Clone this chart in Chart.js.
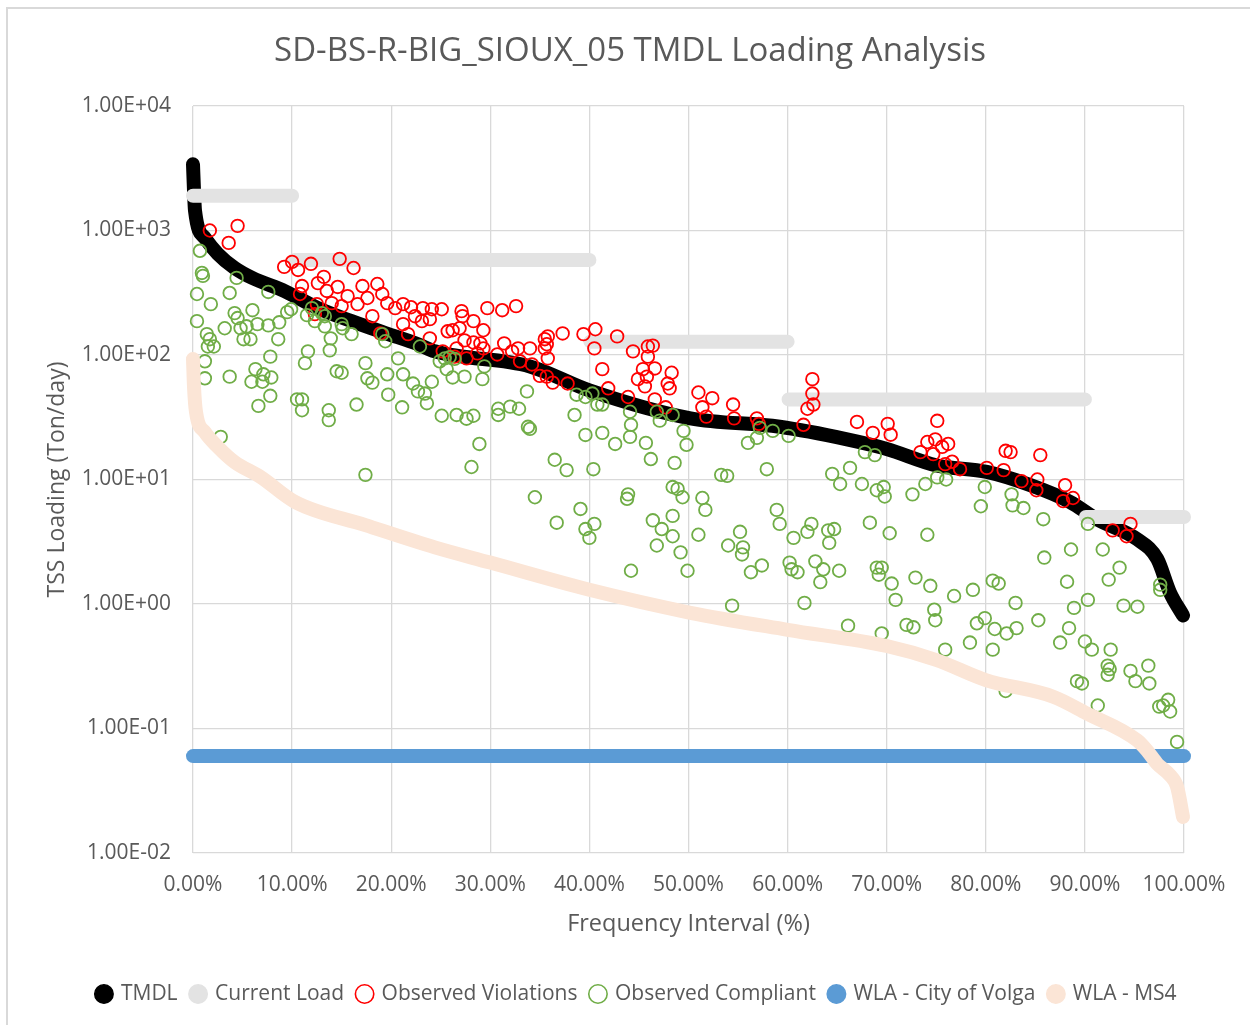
<!DOCTYPE html>
<html>
<head>
<meta charset="utf-8">
<script src="https://cdn.jsdelivr.net/npm/chart.js@4.4.1/dist/chart.umd.min.js"></script>
<style>
  body { margin: 0; background: #fff; }
  #frame { position: absolute; left: 6px; top: 7px; width: 1260px; height: 1040px; border: 2px solid #d9d9d9; }
  #wrap { position: absolute; left: 0; top: 0; width: 1250px; height: 1025px; }
</style>
</head>
<body>
<div id="frame"></div>
<div id="wrap"><canvas id="graph" width="1250" height="1025"></canvas></div>
<script>
// flow duration curve (percent of time exceeded) vs load, ton/day
var tmdlX = [0, 0.1, 0.2, 1.2, 2.5, 4.2, 6.0, 9.3, 12.6, 16.0, 19.4, 22.7, 24.4, 34.0, 40.0, 50.2, 59.2, 66.0, 70.0, 75.0, 80.1, 84.5, 88.5, 91.2, 95.3, 97.3, 98.6, 99.9];
var tmdlY = [3400, 2100, 1450, 870, 650, 500, 415, 325, 238, 187, 150, 122, 107, 81, 52, 31, 26.5, 21, 17.6, 13, 11.5, 9.0, 6.6, 4.8, 3.3, 2.3, 1.23, 0.81];

var loadX = [0, 10, 10.1, 10.2, 40, 40.05, 40.1, 60, 60.05, 60.1, 90, 90.05, 90.1, 100];
var loadY = [1900, 1900, null, 580, 580, null, 128, 128, null, 44, 44, null, 5.0, 5.0];

var volgaX = [0, 100];
var volgaY = [0.06, 0.06];

var ms4X = [0, 0.1, 0.3, 1.2, 2.5, 4.2, 6.8, 10.3, 17.4, 24.4, 30, 40, 50.2, 60, 70, 75, 80, 86.8, 90.2, 95.3, 96.3, 97.3, 98.6, 99.3, 99.9];
var ms4Y = [93, 56, 35, 24, 18.3, 13.8, 10.5, 6.6, 4.3, 2.85, 2.15, 1.30, 0.85, 0.62, 0.46, 0.355, 0.245, 0.18, 0.132, 0.080, 0.066, 0.052, 0.042, 0.034, 0.0195];

var violX = [1.7, 4.5, 3.6, 9.2, 10.0, 10.6, 11.9, 14.8, 16.2, 12.6, 13.2, 11.0, 10.8, 13.5, 14.6, 12.5, 14.0, 15.0, 15.6, 17.1,
  18.6, 17.6, 16.6, 19.1, 19.6, 20.4, 21.2, 22.0, 23.2, 24.1, 22.4, 18.1, 21.2, 23.1, 23.9, 21.7, 23.9, 18.9, 12.3,
  25.1, 27.1, 27.2, 28.3, 29.7, 31.2, 32.6, 25.7, 26.2, 26.9, 29.3, 27.4, 28.3, 29.0, 29.3, 26.6, 25.2, 26.4, 27.6, 28.7,
  30.7, 31.4, 32.2, 32.8, 34.0, 33.0, 34.2, 35.5, 35.8, 35.7, 35.5, 37.3, 35.8, 35.0, 35.7, 36.3, 37.8, 39.4, 40.6, 40.5,
  41.3, 42.8, 44.4, 45.9, 46.4, 45.9, 45.4, 44.9, 45.6, 45.8, 46.6, 48.3, 47.9, 48.1, 41.9, 43.9, 46.6, 47.7,
  51.0, 52.4, 51.4, 51.8, 54.5, 54.6, 56.9, 57.1, 62.5, 62.5, 62.6, 62.0, 61.6, 67.0, 68.6, 70.1, 70.4, 73.4, 74.1,
  75.1, 74.9, 75.6, 76.2, 74.7, 75.9, 76.6, 77.4, 80.1, 81.8, 82.0, 82.5, 85.5, 83.6, 85.2, 85.1, 88.0, 88.8, 87.8,
  92.8, 94.6, 94.2];
var violY = [1000, 1090, 795, 510, 560, 482, 540, 592, 500, 378, 424, 358, 309, 327, 352, 256, 261, 247, 297, 358,
  372, 287, 256, 309, 261, 238, 256, 242, 238, 233, 205, 205, 177, 187, 194, 147, 136, 149, 213,
  233, 225, 205, 187, 238, 229, 247, 155, 158, 164, 158, 131, 126, 124, 113, 113, 107, 97, 94, 103,
  101, 124, 107, 113, 113, 89, 84, 134, 141, 122, 113, 149, 94, 68, 67, 60, 59, 147, 161, 113,
  77, 141, 107, 117, 119, 97, 77, 64, 56, 67, 78, 72, 59, 54, 54, 46, 44, 38,
  50, 45, 38, 32, 40, 31, 31, 28, 64, 49, 40, 37, 27.5, 29, 23.7, 28, 22.9, 16.6, 20,
  29.6, 21, 18.3, 19.3, 16, 13.3, 13.9, 12.1, 12.4, 11.9, 17, 16.6, 15.7, 9.7, 10, 8.2, 9.0, 7.1, 6.7,
  3.9, 4.4, 3.5];

var compX = [0.7, 0.9, 1.0, 0.4, 1.8, 0.4, 1.4, 1.7, 1.5, 2.1, 1.2, 1.2, 3.7, 4.4, 3.7, 3.2, 4.2, 6.0, 4.5, 4.8,
  5.4, 6.5, 7.6, 8.7, 5.1, 5.8, 7.6, 8.6, 7.8, 6.3, 7.1, 7.9, 5.9, 7.0, 7.8, 6.6, 10.5, 11.0, 11.0, 13.7,
  13.7, 2.8, 17.4, 9.5, 9.9, 11.5, 12.0, 12.3, 13.0, 13.3, 13.3, 15.0, 15.1, 16.0, 13.9, 13.8, 11.6, 11.3, 14.5, 15.0,
  17.4, 17.6, 18.1, 16.5, 19.6, 19.7, 21.1, 20.7, 19.4, 19.1, 21.2, 22.2, 22.7, 23.4, 23.6, 24.1, 22.9,
  24.9, 25.4, 25.9, 26.4, 25.6, 26.2, 27.4, 29.2, 29.4, 25.1, 26.6, 27.6, 28.3, 30.8, 30.8, 32.0, 32.9, 33.7, 33.8,
  34.0, 28.9, 28.1, 36.5, 37.7, 40.4, 38.5, 38.7, 39.6, 40.3, 40.8, 41.3, 39.6, 41.3, 42.6, 44.1, 44.2, 44.1, 45.7,
  46.2, 48.6, 46.8, 47.1, 48.4, 49.5, 49.8, 48.4, 48.9, 34.5, 43.9, 43.8,
  39.1, 36.7, 39.6, 40.5, 40.0, 49.4, 46.4, 47.3, 48.4, 48.4, 46.8, 49.2, 44.2, 49.9,
  53.3, 53.9, 56.0, 56.9, 57.2, 58.5, 60.1, 57.9, 64.5, 66.3, 67.8, 68.8, 65.3, 67.5, 69.0, 69.7, 69.8,
  51.4, 51.7, 51.0, 55.2, 54.0, 55.5, 55.4, 56.3, 57.4, 58.9, 59.2, 60.6, 62.0, 62.4, 60.2, 60.4, 61.0, 62.8, 63.6,
  63.3, 65.2, 64.1, 64.7, 64.2, 61.7, 54.4, 66.1, 68.3, 69.0, 69.5, 69.2, 70.3, 70.5, 70.9, 69.5, 72.6, 73.9, 74.1,
  72.9, 72.0, 72.7,
  75.1, 76.0, 79.9, 79.5, 82.6, 82.7, 83.8, 85.8, 90.3, 85.9, 88.6, 91.8, 93.5, 92.4, 88.2, 90.3, 88.9, 93.9, 95.3,
  97.6, 97.6, 74.4, 80.7, 81.3, 78.7, 76.8, 83.0, 74.8, 74.9, 79.1, 79.9, 80.9, 82.1, 83.1, 85.3, 88.4, 87.5, 78.4,
  80.7, 75.9, 90.0, 90.7, 92.6, 92.3, 92.5, 92.3, 94.6, 95.1, 96.4, 96.5, 89.2, 89.7, 82.0, 91.3, 97.5, 97.9, 98.4,
  98.6, 99.3];
var compY = [687, 456, 432, 309, 256, 187, 147, 134, 117, 117, 89, 65, 67, 416, 315, 164, 217, 229, 198, 164,
  170, 177, 173, 183, 134, 134, 321, 134, 97, 77, 70, 66, 61, 61, 47, 39, 44, 44, 36, 36,
  30, 22, 10.9, 221, 233, 209, 238, 187, 217, 205, 170, 177, 164, 147, 136, 109, 107, 86, 74, 72,
  86, 65, 60, 40, 70, 48, 38, 94, 129, 147, 70, 59, 51, 49, 41, 61, 117,
  89, 94, 96, 93, 77, 66, 67, 64, 81, 32.5, 33, 30.8, 32.5, 37, 33, 38.5, 37, 51, 26.5,
  25.5, 19.3, 12.6, 14.4, 11.9, 12.1, 33, 48, 46, 49, 40, 40, 22.8, 23.7, 19.3, 35, 27.5, 22, 19.7,
  14.6, 13.6, 35, 29.7, 33, 24.6, 19, 8.7, 8.4, 7.2, 7.6, 7.0,
  5.8, 4.5, 4.0, 4.4, 3.4, 7.2, 4.7, 4.0, 5.1, 3.5, 2.95, 2.6, 1.85, 1.85,
  10.9, 10.7, 19.7, 21.6, 26, 24.6, 22.4, 12.1, 11.1, 12.4, 16.6, 15.7, 9.2, 9.2, 8.2, 8.7, 7.3,
  7.1, 5.7, 3.6, 3.8, 2.95, 2.85, 2.5, 1.8, 2.04, 5.7, 4.4, 3.4, 3.8, 4.4, 2.15, 1.9, 1.8, 2.2, 1.9,
  1.5, 1.85, 3.9, 4.0, 3.1, 1.02, 0.97, 0.67, 4.5, 1.96, 1.96, 1.72, 3.7, 1.46, 1.08, 0.58, 7.6, 9.2, 3.6,
  1.63, 0.68, 0.65,
  10.4, 10.0, 8.7, 6.1, 7.6, 6.2, 5.9, 4.8, 4.4, 2.36, 2.74, 2.74, 1.96, 1.57, 1.51, 1.08, 0.93, 0.97, 0.95,
  1.43, 1.3, 1.40, 1.54, 1.46, 1.30, 1.16, 1.02, 0.90, 0.74, 0.70, 0.77, 0.63, 0.58, 0.64, 0.74, 0.64, 0.49, 0.49,
  0.43, 0.43, 0.50, 0.43, 0.43, 0.32, 0.30, 0.27, 0.29, 0.24, 0.32, 0.23, 0.24, 0.23, 0.20, 0.153, 0.15, 0.153, 0.17,
  0.137, 0.078];

var yTicks = [0.01, 0.1, 1, 10, 100, 1000, 10000];
var seriesNames = ['TMDL', 'Current Load', 'Observed Violations', 'Observed Compliant', 'WLA - City of Volga', 'WLA - MS4'];
var legendFill = ['#000000', '#e3e3e3', '#ffffff', '#ffffff', '#5b9bd5', '#fbe5d6'];
var legendStroke = ['#000000', '#e3e3e3', '#ff0000', '#70ad47', '#5b9bd5', '#fbe5d6'];

function pts(xs, ys) {
  var out = [];
  for (var i = 0; i < xs.length; i++) {
    out.push({x: xs[i], y: ys[i]});
  }
  return out;
}

function sci(v) {
  var e = Math.round(Math.log10(v));
  return '1.00E' + (e < 0 ? '-' : '+') + String(Math.abs(e)).padStart(2, '0');
}

var FONT = 'Open Sans';
var GREY = '#595959';

function curve(label, xs, ys, color, order) {
  return {
    label: label, data: pts(xs, ys), showLine: true, spanGaps: false,
    borderColor: color, backgroundColor: color, borderWidth: 14,
    borderCapStyle: 'round', borderJoinStyle: 'round', cubicInterpolationMode: 'monotone',
    pointRadius: 0, pointHoverRadius: 0, clip: false, order: order
  };
}

function dots(label, xs, ys, color, order) {
  return {
    label: label, data: pts(xs, ys), showLine: false,
    borderColor: color, backgroundColor: 'rgba(0,0,0,0)', borderWidth: 1.8,
    pointRadius: 6.3, pointStyle: 'circle', clip: false, order: order
  };
}

// excel centres title and legend on the whole chart box, not the padded one
var centreShift = {
  id: 'centreShift',
  afterLayout: function(chart) {
    if (chart.titleBlock) { chart.titleBlock.left += 23; chart.titleBlock.right += 23; }
    if (chart.legend) { chart.legend.left += 30; chart.legend.right += 30; }
  }
};

var ctx = document.getElementById('graph').getContext('2d');
var myChart = new Chart(ctx, {
  type: 'scatter',
  data: {
    datasets: [
      curve(seriesNames[0], tmdlX, tmdlY, '#000000', 6),
      curve(seriesNames[1], loadX, loadY, '#e3e3e3', 5),
      dots(seriesNames[2], violX, violY, '#ff0000', 4),
      dots(seriesNames[3], compX, compY, '#70ad47', 3),
      curve(seriesNames[4], volgaX, volgaY, '#5b9bd5', 2),
      curve(seriesNames[5], ms4X, ms4Y, '#fbe5d6', 1)
    ]
  },
  plugins: [centreShift],
  options: {
    responsive: false,
    animation: false,
    layout: { padding: { left: 30, right: 66, top: 0, bottom: 10.5 } },
    plugins: {
      tooltip: { enabled: false },
      title: {
        display: true,
        text: 'SD-BS-R-BIG_SIOUX_05 TMDL Loading Analysis',
        color: GREY,
        font: { family: FONT, size: 33, weight: 'normal' },
        padding: { top: 32, bottom: 34.4 }
      },
      legend: {
        position: 'bottom',
        labels: {
          usePointStyle: true,
          pointStyle: 'circle',
          boxWidth: 13,
          boxHeight: 13,
          padding: 14,
          color: GREY,
          font: { family: FONT, size: 21 },
          sort: function(a, b) { return a.datasetIndex - b.datasetIndex; },
          generateLabels: function(chart) {
            var items = Chart.defaults.plugins.legend.labels.generateLabels(chart);
            items.forEach(function(it) {
              var i = it.datasetIndex;
              it.fillStyle = legendFill[i];
              it.strokeStyle = legendStroke[i];
              it.lineWidth = 1.6;
              it.pointStyle = 'circle';
            });
            return items;
          }
        }
      }
    },
    scales: {
      x: {
        type: 'linear',
        min: 0,
        max: 100,
        afterFit: function(scale) { scale.height = 116.5; },
        ticks: {
          stepSize: 10,
          padding: 19,
          color: GREY,
          font: { family: FONT, size: 21 },
          maxRotation: 0,
          callback: function(v) { return v.toFixed(2) + '%'; }
        },
        grid: { color: '#d9d9d9', lineWidth: 1.3, drawTicks: false },
        border: { display: false },
        title: {
          display: true,
          text: 'Frequency Interval (%)',
          color: GREY,
          font: { family: FONT, size: 23.5 },
          padding: { top: 0, bottom: 31.4 }
        }
      },
      y: {
        type: 'logarithmic',
        min: 0.01,
        max: 10000,
        afterFit: function(scale) { scale.width = 163; },
        afterBuildTicks: function(scale) {
          scale.ticks = yTicks.map(function(v) { return {value: v}; });
        },
        ticks: {
          padding: 22,
          color: GREY,
          font: { family: FONT, size: 21 },
          callback: function(v) { return sci(v); }
        },
        grid: { color: '#d9d9d9', lineWidth: 1.3, drawTicks: false },
        border: { display: false },
        title: {
          display: true,
          text: 'TSS Loading (Ton/day)',
          color: GREY,
          font: { family: FONT, size: 23 },
          padding: { top: 14, bottom: 0 }
        }
      }
    }
  }
});
</script>
</body>
</html>
